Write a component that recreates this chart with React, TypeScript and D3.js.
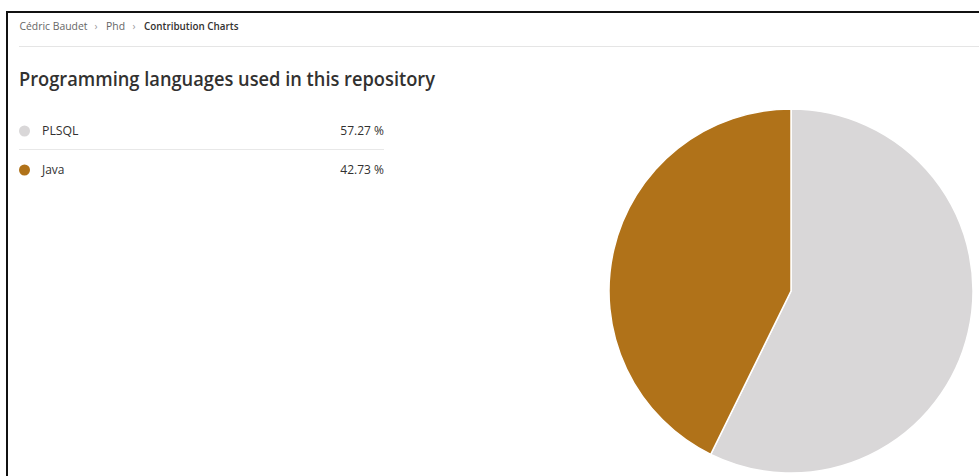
import React from "react";
import * as d3 from "d3";

const languages = ["PLSQL", "Java"];
const shares = [57.27, 42.73];
const colors = ["#d9d7d8", "#b07219"];
const breadcrumb = ["Cédric Baudet", "Phd", "Contribution Charts"];
const title = "Programming languages used in this repository";

const W = 979;
const H = 476;
const FONT = "'Segoe UI', 'Open Sans', 'Noto Sans', sans-serif";

export default function App() {
  const data = languages.map((name, i) => ({ name, value: shares[i], color: colors[i] }));
  const pie = d3.pie<any>().sort(null).value((d: any) => d.value);
  const arcs = pie(data);
  const cx = 791;
  const cy = 291;
  const r = 182;
  const arc = d3.arc<any>().innerRadius(0).outerRadius(r);

  const rowY = d3.scaleLinear().domain([0, 1]).range([131, 170]);

  const crumbX = [19.5, 106, 144];
  const crumbLen = [68, 19, 94.5];
  const sepX = [96, 134];
  const nameLen = [36.5, 22.5];

  return (
    <svg
      width={W}
      height={H}
      style={{ position: "absolute", left: 0, top: 0, background: "#fff" }}
      fontFamily={FONT}
    >
      <rect x={0} y={0} width={W} height={H} fill="#fff" />
      {/* frame */}
      <line x1={6} y1={12} x2={W} y2={12} stroke="#111" strokeWidth={2} />
      <line x1={7} y1={11} x2={7} y2={H} stroke="#111" strokeWidth={2} />

      {/* breadcrumb */}
      {breadcrumb.map((t, i) => (
        <text
          key={t}
          x={crumbX[i]}
          y={30}
          fontSize={11}
          fill={i === breadcrumb.length - 1 ? "#323130" : "#666"}
          fontWeight={i === breadcrumb.length - 1 ? 600 : 400}
          textLength={crumbLen[i]}
          lengthAdjust="spacingAndGlyphs"
        >
          {t}
        </text>
      ))}
      {sepX.map((x, i) => (
        <text key={i} x={x} y={30} fontSize={10} fill="#999" textAnchor="middle">
          ›
        </text>
      ))}
      <line x1={19} y1={46.5} x2={W} y2={46.5} stroke="#e5e5e5" strokeWidth={1} />

      {/* title */}
      <text
        x={19}
        y={86}
        fontSize={20}
        fontWeight={600}
        fill="#323130"
        textLength={416}
        lengthAdjust="spacingAndGlyphs"
      >
        {title}
      </text>

      {/* legend */}
      {data.map((d, i) => (
        <g key={d.name}>
          <circle cx={24.5} cy={rowY(i)} r={5.5} fill={d.color} />
          <text
            x={42}
            y={rowY(i) + 4}
            fontSize={12}
            fill="#323130"
            textLength={nameLen[i]}
            lengthAdjust="spacingAndGlyphs"
          >
            {d.name}
          </text>
          <text x={384} y={rowY(i) + 4} fontSize={12} fill="#323130" textAnchor="end">
            {d.value.toFixed(2)} %
          </text>
        </g>
      ))}
      <line x1={19} y1={149.5} x2={384} y2={149.5} stroke="#e8e8e8" strokeWidth={1} />

      {/* pie */}
      <g transform={`translate(${cx},${cy})`}>
        {arcs.map((a: any) => (
          <path key={a.data.name} d={arc(a) as string} fill={a.data.color} stroke="#fff" strokeWidth={1.5} />
        ))}
      </g>
    </svg>
  );
}
